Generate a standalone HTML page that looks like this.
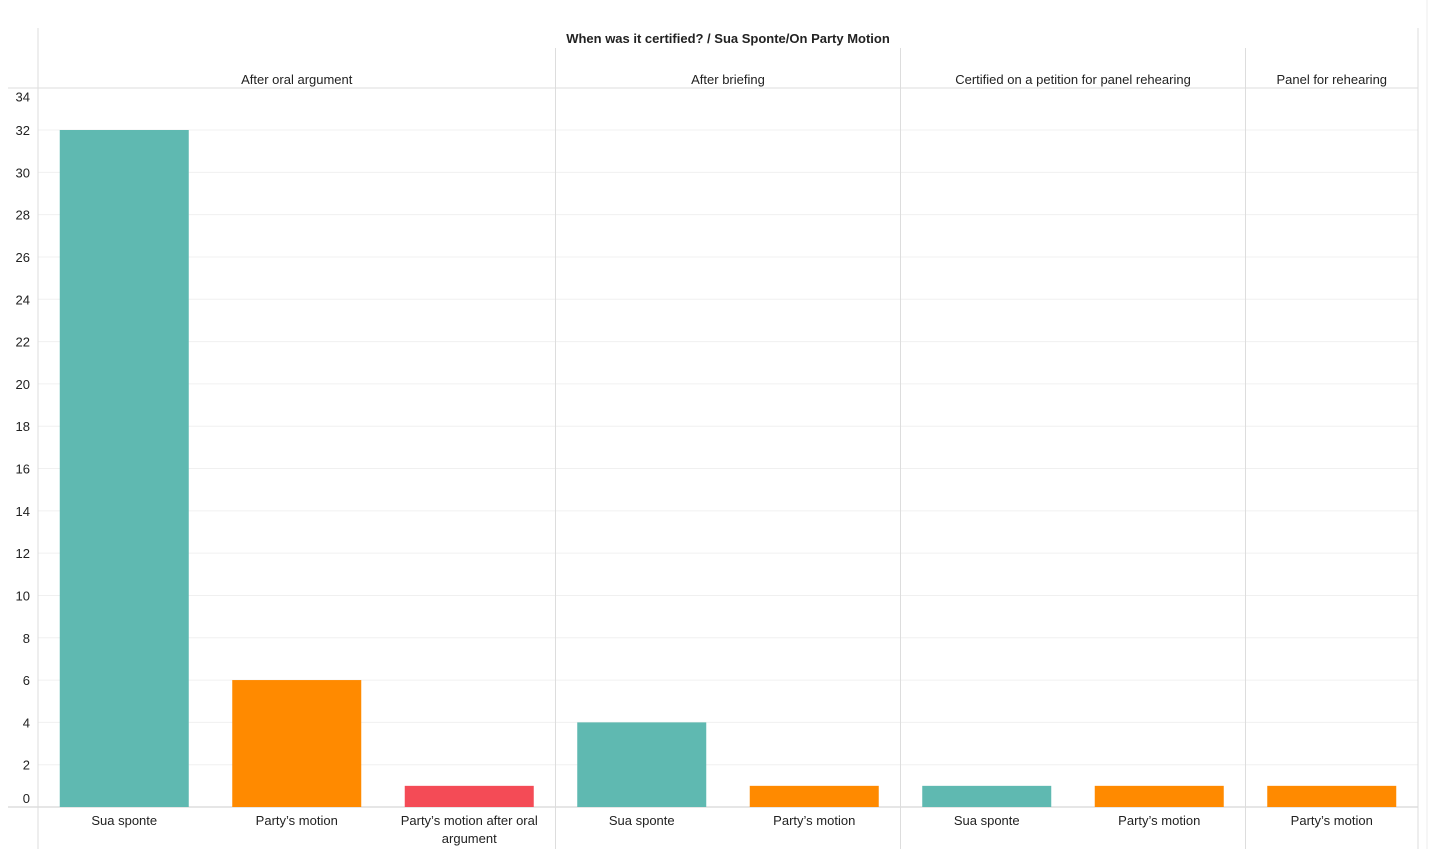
<!DOCTYPE html>
<html><head><meta charset="utf-8"><style>
body{margin:0;background:#fff;}
svg text{font-family:"Liberation Sans",sans-serif;fill:#222;}
</style></head><body>
<svg width="1429" height="849" xmlns="http://www.w3.org/2000/svg" id="chart">
<line x1="1427" y1="0" x2="1427" y2="849" stroke="#eee"/>
<text x="728" y="43" font-size="13" font-weight="bold" text-anchor="middle">When was it certified?  /  Sua Sponte/On Party Motion</text>
<g id="grid"></g><g id="bars"></g><g id="labels"></g>
</svg>
<script>
const groups=["After oral argument","After briefing","Certified on a petition for panel rehearing","Panel for rehearing"];
const groupCats=[["Sua sponte","Party’s motion","Party’s motion after oral|argument"],["Sua sponte","Party’s motion"],["Sua sponte","Party’s motion"],["Party’s motion"]];
const values=[[32,6,1],[4,1],[1,1],[1]];
const yTicks=[0,2,4,6,8,10,12,14,16,18,20,22,24,26,28,30,32,34];
const colorMap={"Sua sponte":"#5fb9b1","Party’s motion":"#ff8a00","Party’s motion after oral|argument":"#f44b56"};
const NS="http://www.w3.org/2000/svg";
const svg=document.getElementById('chart');
const x0=38,x1=1418,y0=807,yTop=130,vTop=32;
const y=v=>y0-(v/vTop)*(y0-yTop);
const total=groupCats.reduce((a,g)=>a+g.length,0);
const cw=(x1-x0)/total;
function mk(t,a,p){const e=document.createElementNS(NS,t);for(const k in a)e.setAttribute(k,a[k]);(p||svg).appendChild(e);return e;}
const grid=document.getElementById('grid'),bars=document.getElementById('bars'),labs=document.getElementById('labels');
yTicks.forEach(t=>{
 const yy=y(t);
 if(t>0&&t<34){const l=mk('line',{x1:x0,x2:x1,y1:yy,y2:yy,stroke:'#f0f0f0'},grid);
 
 }
 let ty=yy+5; if(t===0)ty=yy-4; if(t===34)ty=yy+14;
 const tx=mk('text',{x:30,y:ty,'font-size':13,'text-anchor':'end'},labs);tx.textContent=t;
 
 
});
let line=mk('line',{x1:8,x2:x1,y1:88,y2:88,stroke:'#ddd'},grid);


line=mk('line',{x1:8,x2:x1,y1:y0,y2:y0,stroke:'#ccc'},grid);


line=mk('line',{x1:x0,x2:x0,y1:28,y2:849,stroke:'#ddd'},grid);


line=mk('line',{x1:x1,x2:x1,y1:28,y2:849,stroke:'#ddd'},grid);


let idx=0;
groups.forEach((g,gi)=>{
 const gs=x0+idx*cw, ge=gs+groupCats[gi].length*cw;
 if(gi>0){const d=mk('line',{x1:gs,x2:gs,y1:48,y2:849,stroke:'#ddd'},grid);
 
 }
 const gt=mk('text',{x:(gs+ge)/2,y:84,'font-size':13,'text-anchor':'middle'},labs);gt.textContent=g;
 
 
 groupCats[gi].forEach((c,ci)=>{
  const cx=x0+(idx+0.5)*cw, v=values[gi][ci];
  const r=mk('rect',{x:cx-64.5,width:129,y:y(v),height:y0-y(v),fill:colorMap[c]},bars);
  
  
  c.split('|').forEach((p,pi)=>{
   const t=mk('text',{x:cx,y:825+pi*18,'font-size':13,'text-anchor':'middle'},labs);t.textContent=p;
   
   
  });
  idx++;
 });
});
</script>
</body></html>
